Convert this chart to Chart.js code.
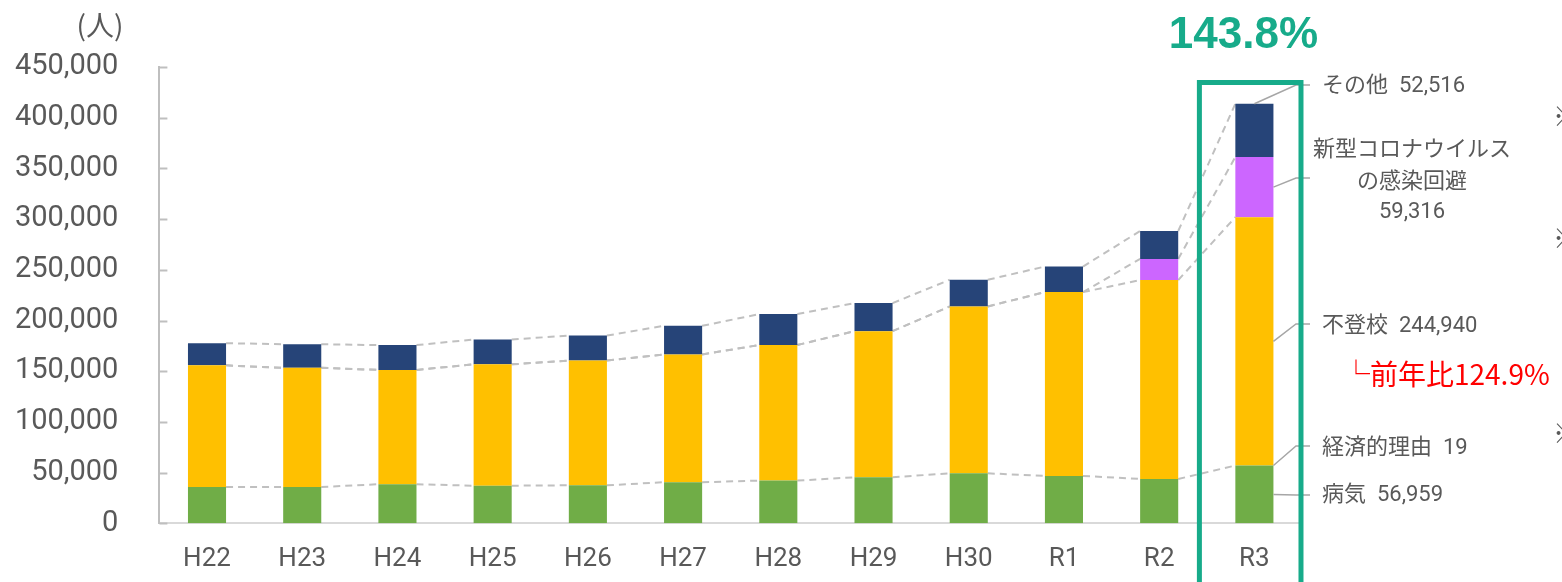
<!DOCTYPE html>
<html lang="ja">
<head>
<meta charset="utf-8">
<script src="https://cdn.jsdelivr.net/npm/chart.js@4/dist/chart.umd.min.js"></script>
<style>
  html, body { margin: 0; padding: 0; background: #fff; }
  #wrap { width: 1562px; height: 582px; }
</style>
</head>
<body>
<div id="wrap"><canvas id="chart" width="1562" height="582"></canvas></div>
<script>
// 長期欠席者数（小・中学校）
const categories = ["H22", "H23", "H24", "H25", "H26", "H27", "H28", "H29", "H30", "R1", "R2", "R3"];
const sickness = [35800, 35800, 38500, 37100, 37500, 40500, 42100, 45400, 49300, 46700, 43700, 56959];
const economic = [60, 70, 50, 40, 40, 30, 30, 20, 20, 20, 20, 19];
const futoukou = [119891, 117458, 112689, 119617, 122897, 125991, 133683, 144031, 164528, 181272, 196127, 244940];
const corona = [null, null, null, null, null, null, null, null, null, null, 20905, 59316];
const others = [21900, 23300, 24500, 24500, 24700, 28200, 30500, 27700, 26300, 25200, 27500, 52516];
const yTicks = [0, 50000, 100000, 150000, 200000, 250000, 300000, 350000, 400000, 450000];
const totalRate = "143.8%";
const futoukouRate = "前年比124.9%";

const fmt = (v) => v.toLocaleString("en-US");
const GRAY_TEXT = "#595959";
const NUM_FONT = "Roboto, 'Noto Sans CJK JP', sans-serif";
const JP_FONT = "'Noto Sans CJK JP', sans-serif";

// 積み上げ上端（データセットindexまでの合計）
const cumAt = (chart, upTo, i) =>
  chart.data.datasets.slice(0, upTo + 1).reduce((s, ds) => s + (ds.data[i] || 0), 0);

const overlay = {
  id: "overlay",
  beforeDatasetsDraw(chart) {
    // 棒の間の破線
    const { ctx, scales: { y } } = chart;
    const bars = chart.getDatasetMeta(0).data;
    ctx.save();
    ctx.strokeStyle = "#C0C0C0";
    ctx.lineWidth = 2;
    ctx.setLineDash([7, 5]);
    [0, 2, 3, 4].forEach((level) => {
      for (let i = 0; i < bars.length - 1; i++) {
        const a = bars[i], b = bars[i + 1];
        ctx.beginPath();
        ctx.moveTo(a.x + a.width / 2, y.getPixelForValue(cumAt(chart, level, i)));
        ctx.lineTo(b.x - b.width / 2, y.getPixelForValue(cumAt(chart, level, i + 1)));
        ctx.stroke();
      }
    });
    ctx.restore();
  },
  afterDatasetsDraw(chart) {
    const { ctx, chartArea, scales: { y } } = chart;
    const last = categories.length - 1;
    const bar = chart.getDatasetMeta(0).data[last];
    const barRight = bar.x + bar.width / 2;
    const elbowX = chartArea.right - 6;
    const endX = chartArea.right + 8;
    const yv = (v) => y.getPixelForValue(v);

    const s0 = cumAt(chart, 0, last);
    const s1 = cumAt(chart, 1, last);
    const s2 = cumAt(chart, 2, last);
    const s3 = cumAt(chart, 3, last);
    const s4 = cumAt(chart, 4, last);

    // 引き出し線
    const leaders = [
      { from: [bar.x, yv(s4)], ty: 85 },
      { from: [barRight, yv((s3 + s2) / 2)], ty: 178 },
      { from: [barRight, yv((s2 + s1) / 2)], ty: 324 },
      { from: [barRight, yv(s1)], ty: 446 },
      { from: [barRight, yv(s0 / 2)], ty: 495 },
    ];
    ctx.save();
    ctx.strokeStyle = "#A6A6A6";
    ctx.lineWidth = 1.5;
    leaders.forEach((l) => {
      ctx.beginPath();
      ctx.moveTo(l.from[0], l.from[1]);
      ctx.lineTo(elbowX, l.ty);
      ctx.lineTo(endX, l.ty);
      ctx.stroke();
    });

    // R3の囲み
    ctx.strokeStyle = "#17AB8A";
    ctx.lineWidth = 5;
    ctx.strokeRect(bar.x - 55, 82.5, 101.6, 510);

    // y軸の内向き目盛
    ctx.strokeStyle = "#BFBFBF";
    ctx.lineWidth = 2;
    yTicks.forEach((v) => {
      const py = Math.round(yv(v)) + 0.5;
      ctx.beginPath();
      ctx.moveTo(chartArea.left, py);
      ctx.lineTo(chartArea.left + 8, py);
      ctx.stroke();
    });

    // 右側ラベル
    ctx.fillStyle = GRAY_TEXT;
    ctx.textBaseline = "middle";
    ctx.textAlign = "left";
    ctx.font = "22px " + NUM_FONT;
    const tx = endX + 12;
    ctx.fillText("その他  " + fmt(others[last]), tx, 86);
    ctx.fillText("不登校  " + fmt(futoukou[last]), tx, 326);
    ctx.fillText("経済的理由  " + fmt(economic[last]), tx, 448);
    ctx.fillText("病気  " + fmt(sickness[last]), tx, 495);
    ctx.textAlign = "center";
    ctx.fillText("新型コロナウイルス", 1412, 150);
    ctx.fillText("の感染回避", 1412, 182);
    ctx.fillText(fmt(corona[last]), 1412, 212);

    // 前年比
    ctx.fillStyle = "#FF0000";
    ctx.textAlign = "left";
    ctx.font = "28px " + JP_FONT;
    ctx.fillText("└" + futoukouRate, 1342, 374);

    // 伸び率
    ctx.fillStyle = "#17AB8A";
    ctx.textAlign = "center";
    ctx.textBaseline = "alphabetic";
    ctx.font = "bold 44px 'Liberation Sans', Arial, sans-serif";
    ctx.fillText(totalRate, bar.x - 11, 48);

    // 単位
    ctx.fillStyle = GRAY_TEXT;
    ctx.textBaseline = "middle";
    ctx.font = "28px " + JP_FONT;
    ctx.fillText("(人)", 100, 25);

    // 右端の注記記号
    ctx.textAlign = "left";
    ctx.font = "26px " + JP_FONT;
    [116, 238, 433].forEach((py) => ctx.fillText("※", 1553, py));
    ctx.restore();
  },
};

new Chart(document.getElementById("chart"), {
  type: "bar",
  data: {
    labels: categories,
    datasets: [
      { label: "病気", data: sickness, backgroundColor: "#70AD47" },
      { label: "経済的理由", data: economic, backgroundColor: "#A5A5A5" },
      { label: "不登校", data: futoukou, backgroundColor: "#FFC000" },
      { label: "新型コロナウイルスの感染回避", data: corona, backgroundColor: "#CC66FF" },
      { label: "その他", data: others, backgroundColor: "#264478" },
    ],
  },
  options: {
    responsive: false,
    animation: false,
    devicePixelRatio: 1,
    layout: { padding: { left: 0, top: 67, right: 260, bottom: 0 } },
    datasets: { bar: { categoryPercentage: 0.8, barPercentage: 0.5, borderWidth: 0 } },
    plugins: { legend: { display: false }, tooltip: { enabled: false } },
    scales: {
      x: {
        stacked: true,
        grid: { display: false, drawTicks: false },
        border: { display: true, color: "#D9D9D9", width: 2 },
        ticks: { color: GRAY_TEXT, padding: 21, font: { family: NUM_FONT, size: 26 } },
        afterFit: (s) => { s.height = 58.7; },
      },
      y: {
        stacked: true,
        min: 0,
        max: 450000,
        afterBuildTicks: (s) => { s.ticks = yTicks.map((v) => ({ value: v })); },
        grid: { display: false, drawTicks: false },
        border: { display: true, color: "#BFBFBF", width: 2 },
        ticks: { color: GRAY_TEXT, padding: 41, font: { family: NUM_FONT, size: 29 }, callback: (v) => fmt(v) },
        afterFit: (s) => { s.width = 159.4; },
      },
    },
  },
  plugins: [overlay],
});
</script>
</body>
</html>
